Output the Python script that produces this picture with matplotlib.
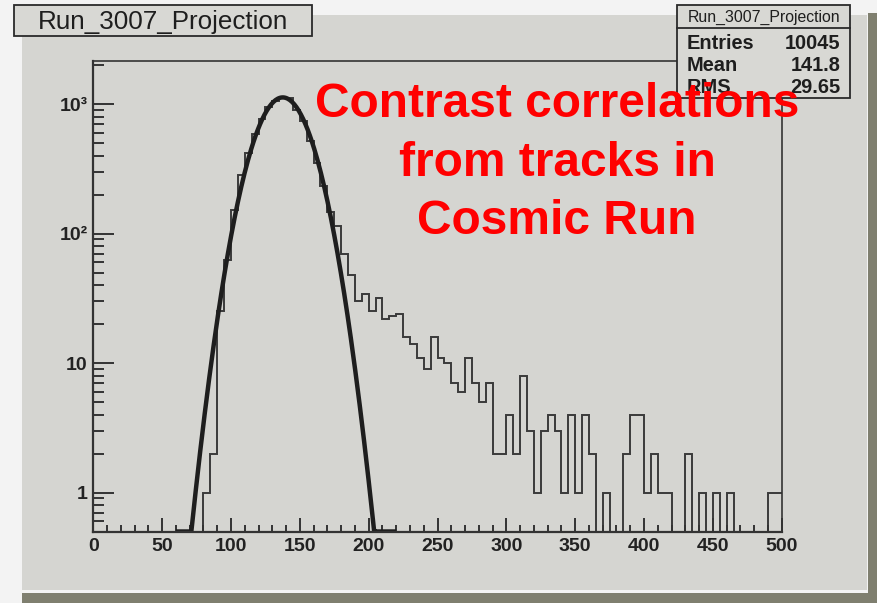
import matplotlib
matplotlib.use('Agg')
import matplotlib.pyplot as plt
import numpy as np
from matplotlib.patches import Rectangle
from matplotlib.ticker import FixedLocator, LogLocator, MultipleLocator, NullFormatter

plt.rcParams['font.family'] = ['Liberation Sans', 'DejaVu Sans']

# projection histogram, 5-unit bins from 0 to 500
bin_edges = np.arange(0, 505, 5)
counts = [0] * 16 + [
    1, 2, 25, 63, 153, 283, 422, 591, 763, 953,          # 80 - 125
    1055, 1107, 1118, 899, 740, 519, 350, 234, 146, 114, # 130 - 175
    70, 48, 30, 34, 25, 32, 22, 23, 24, 16,              # 180 - 225
    14, 11, 9, 16, 11, 10, 7, 6, 11, 7,                  # 230 - 275
    5, 7, 2, 2, 4, 2, 8, 3, 1, 3,                        # 280 - 325
    4, 3, 1, 4, 1, 4, 2, 0, 1, 0,                        # 330 - 375
    0, 2, 4, 4, 1, 2, 1, 1, 0, 0,                        # 380 - 425
    2, 0, 1, 0, 1, 0, 1, 0, 0, 0,                        # 430 - 475
    0, 0, 1, 1]                                          # 480 - 495

# gaussian fit drawn on top
fit_const = 1125.0
fit_mean = 137.6
fit_sigma = 16.9
fit_range = (60, 220)

# stats box
hist_name = 'Run_3007_Projection'
stat_names = ['Entries', 'Mean', 'RMS']
stat_values = ['10045', '141.8', '29.65']

note_lines = ['Contrast correlations', 'from tracks in', 'Cosmic Run']

y_major = [1, 10, 100, 1000]
y_major_labels = ['1', '10', '10\u00b2', '10\u00b3']

W, H = 878, 603
ymin, ymax = 0.5, 2150


def fx(px):
    return px / W


def fy(py):
    return 1 - py / H


fig = plt.figure(figsize=(W / 100, H / 100), dpi=100, facecolor='#f3f3f3')

# canvas panel and its shadow
fig.add_artist(Rectangle((fx(22), fy(590)), fx(867) - fx(22), fy(15) - fy(590),
                         transform=fig.transFigure, facecolor='#d5d5d1', edgecolor='none', zorder=-3))
fig.add_artist(Rectangle((fx(868), fy(603)), fx(878) - fx(868), fy(13) - fy(603),
                         transform=fig.transFigure, facecolor='#7f7f6f', edgecolor='none', zorder=-3))
fig.add_artist(Rectangle((fx(22), fy(603)), fx(878) - fx(22), fy(592.5) - fy(603),
                         transform=fig.transFigure, facecolor='#7f7f6f', edgecolor='none', zorder=-3))

ax = fig.add_axes([fx(93.3), fy(531.5), fx(781.7) - fx(93.3), fy(61) - fy(531.5)])
ax.set_facecolor('none')

vals = np.array(counts, dtype=float)
vals[vals <= 0] = 1e-3
ax.stairs(vals, bin_edges, baseline=None, color='#3a3a3a', linewidth=1.4)

xf = np.linspace(fit_range[0], fit_range[1], 200)
yf = fit_const * np.exp(-0.5 * ((xf - fit_mean) / fit_sigma) ** 2)
ax.plot(xf, np.maximum(yf, ymin), color='#1e1e1e', linewidth=3.2, solid_capstyle='butt')

ax.set_yscale('log')
ax.set_xlim(0, 500)
ax.set_ylim(ymin, ymax)

ax.xaxis.set_major_locator(MultipleLocator(50))
ax.xaxis.set_minor_locator(MultipleLocator(10))
ax.yaxis.set_major_locator(FixedLocator(y_major))
ax.yaxis.set_major_formatter(plt.FixedFormatter(y_major_labels))
ax.yaxis.set_minor_locator(LogLocator(base=10, subs=np.arange(2, 10), numticks=20))
ax.yaxis.set_minor_formatter(NullFormatter())

tick_col = '#333333'
ax.tick_params(axis='x', which='major', direction='in', length=10, width=1.4, color=tick_col,
               top=False, pad=5, labelsize=14, labelcolor='#222222')
ax.tick_params(axis='x', which='minor', direction='in', length=5, width=1.4, color=tick_col, top=False)
ax.tick_params(axis='y', which='major', direction='in', length=15, width=1.4, color=tick_col,
               right=False, pad=4, labelsize=14, labelcolor='#222222')
ax.tick_params(axis='y', which='minor', direction='in', length=8, width=1.4, color=tick_col, right=False)
for lab in ax.get_xticklabels() + ax.get_yticklabels():
    lab.set_fontweight('bold')

for side in ['left', 'bottom']:
    ax.spines[side].set_linewidth(1.6)
    ax.spines[side].set_color(tick_col)
for side in ['top', 'right']:
    ax.spines[side].set_linewidth(1.2)
    ax.spines[side].set_color(tick_col)

# title box
fig.add_artist(Rectangle((fx(14), fy(36)), fx(311.5) - fx(14), fy(4.5) - fy(36),
                         transform=fig.transFigure, facecolor='#d8d8d4', edgecolor='#2a2a2a',
                         linewidth=1.3, zorder=5))
fig.text(fx(162.8), fy(29), hist_name, ha='center', va='baseline', fontsize=18.7,
         color='#1e1e1e', zorder=6)

# stats box
fig.add_artist(Rectangle((fx(677.5), fy(98.3)), fx(850) - fx(677.5), fy(4.7) - fy(98.3),
                         transform=fig.transFigure, facecolor='#d8d8d4', edgecolor='#2a2a2a',
                         linewidth=1.3, zorder=5))
fig.add_artist(plt.Line2D([fx(677.5), fx(850)], [fy(28.3), fy(28.3)], transform=fig.transFigure,
                          color='#2a2a2a', linewidth=1.3, zorder=5))
fig.text(fx(763.8), fy(22), hist_name, ha='center', va='baseline', fontsize=11.4,
         color='#1e1e1e', zorder=6)
for i, (name, val) in enumerate(zip(stat_names, stat_values)):
    base = 49.3 + i * 22
    fig.text(fx(686.5), fy(base), name, ha='left', va='baseline', fontsize=14.4,
             fontweight='bold', color='#1e1e1e', zorder=6)
    fig.text(fx(840.5), fy(base), val, ha='right', va='baseline', fontsize=14.4,
             fontweight='bold', color='#1e1e1e', zorder=6)

# red annotation
for i, line in enumerate(note_lines):
    fig.text(fx(557), fy(117 + i * 58.5), line, ha='center', va='baseline', fontsize=34.5,
             fontweight='bold', color='#ff0000', zorder=10)

fig.savefig('out.png', dpi=100, facecolor=fig.get_facecolor())
